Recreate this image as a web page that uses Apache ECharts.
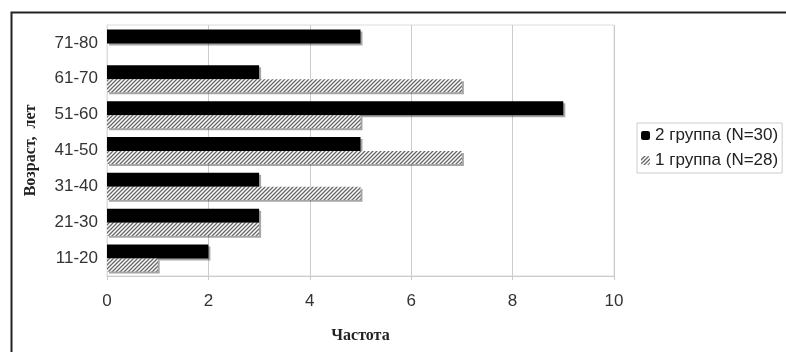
<!DOCTYPE html>
<html><head><meta charset="utf-8">
<script src="https://cdn.jsdelivr.net/npm/echarts@6/dist/echarts.min.js"></script>
<style>html,body{margin:0;padding:0;background:#fff}#c{width:786px;height:352px}</style>
</head><body><div id="c"></div>
<script>
const categories = ['11-20','21-30','31-40','41-50','51-60','61-70','71-80'];
const group2 = [2,3,3,5,9,3,5];
const group1 = [1,3,5,7,5,7,0];
const xTicks = [0,2,4,6,8,10];
const name2 = '2 группа (N=30)';
const name1 = '1 группа (N=28)';

function hatch(){
  const c = document.createElement('canvas');
  c.width = 4; c.height = 4;
  const g = c.getContext('2d');
  g.fillStyle = '#fff'; g.fillRect(0,0,4,4);
  g.strokeStyle = '#666'; g.lineWidth = 1.3;
  g.beginPath();
  g.moveTo(0,4); g.lineTo(4,0);
  g.moveTo(-1,1); g.lineTo(1,-1);
  g.moveTo(3,5); g.lineTo(5,3);
  g.stroke();
  return c;
}
const pat = {image: hatch(), repeat: 'repeat'};

const chart = echarts.init(document.getElementById('c'), null, {renderer:'canvas'});
chart.setOption({
  animation: false,
  backgroundColor: '#fff',
  graphic: [{type:'rect', left: 9, top: 10, shape:{width: 800, height: 400}, style:{fill:'none', stroke:'#222', lineWidth: 2}, z: 100}],
  grid: {left: 107, right: 172, top: 25, bottom: 76, show: true, borderColor: '#ddd', borderWidth: 1},
  legend: {
    orient: 'vertical', left: 637, top: 123, data: [name2, name1],
    itemWidth: 9, itemHeight: 9, itemGap: 8,
    padding: [4, 4, 4, 4],
    borderColor: '#ccc', borderWidth: 1,
    textStyle: {fontFamily: 'Liberation Sans, Arial', fontSize: 17, color: '#222'}
  },
  xAxis: {
    type: 'value', min: 0, max: 10, interval: 2,
    name: 'Частота', nameLocation: 'middle', nameGap: 52,
    nameTextStyle: {fontFamily: 'Liberation Serif, Times New Roman', fontWeight: 'bold', fontSize: 16, color: '#222'},
    axisLine: {show: true, lineStyle: {color: '#ccc'}},
    axisTick: {show: true, length: 4, lineStyle: {color: '#ccc'}},
    splitLine: {show: true, lineStyle: {color: '#ccc'}},
    axisLabel: {margin: 17, fontFamily: 'Liberation Sans, Arial', fontSize: 17, color: '#333',
      formatter: v => xTicks.includes(v) ? String(v) : ''}
  },
  yAxis: {
    type: 'category', data: categories,
    name: 'Возраст,  лет', nameLocation: 'middle', nameGap: 68, nameRotate: 90,
    nameTextStyle: {fontFamily: 'Liberation Serif, Times New Roman', fontWeight: 'bold', fontSize: 16, color: '#222'},
    axisLine: {show: true, lineStyle: {color: '#ddd'}},
    axisTick: {show: false},
    axisLabel: {margin: 9, fontFamily: 'Liberation Sans, Arial', fontSize: 17, color: '#333'}
  },
  series: [
    {name: name2, type: 'bar', data: group2, barWidth: 14, barGap: '0%',
     itemStyle: {color: '#000',
       shadowColor: 'rgba(0,0,0,0.35)', shadowOffsetX: 2, shadowOffsetY: 2, shadowBlur: 0}},
    {name: name1, type: 'bar', data: group1, barWidth: 13,
     itemStyle: {color: pat, borderWidth: 0,
       shadowColor: 'rgba(0,0,0,0.35)', shadowOffsetX: 2, shadowOffsetY: 2, shadowBlur: 0}}
  ]
});
</script></body></html>
